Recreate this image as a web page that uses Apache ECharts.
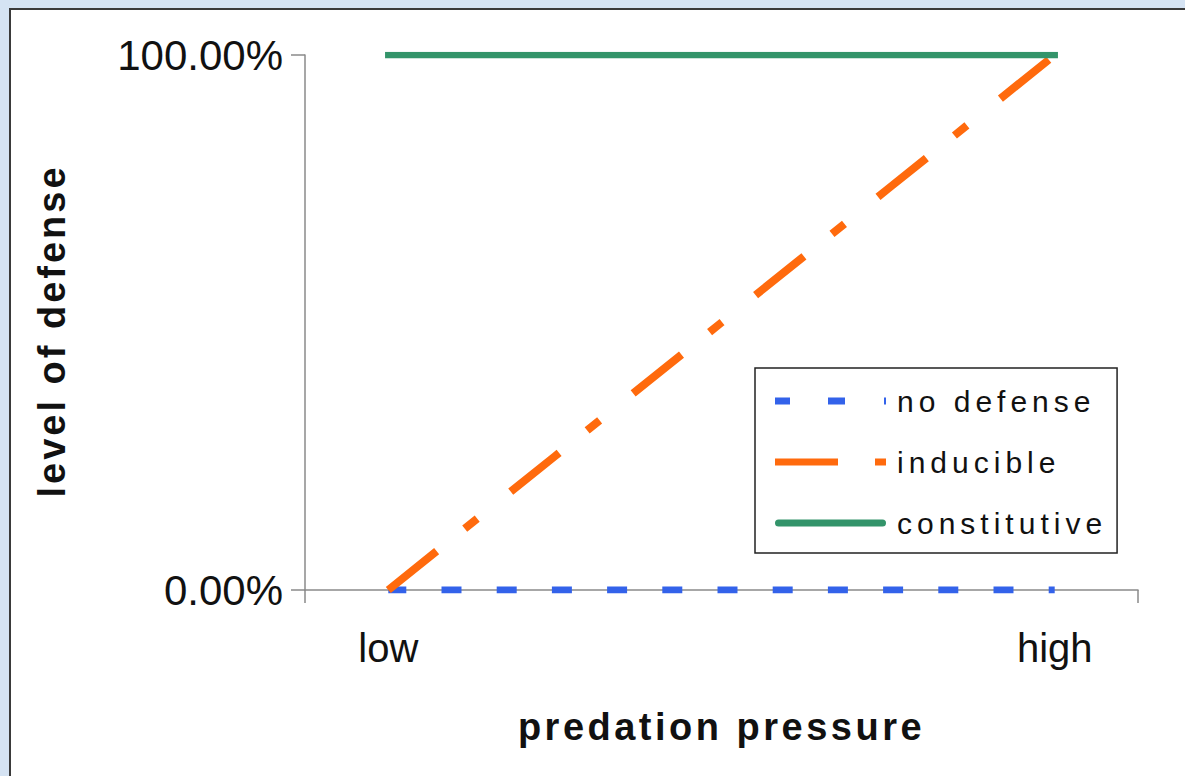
<!DOCTYPE html>
<html>
<head>
<meta charset="utf-8">
<script src="https://cdn.jsdelivr.net/npm/echarts@6/dist/echarts.min.js"></script>
<style>
  html, body { margin: 0; padding: 0; }
  body { width: 1185px; height: 776px; background: #d5e3f3; position: relative; overflow: hidden; }
  #panel { position: absolute; left: 9px; top: 8px; width: 1200px; height: 800px; background: #ffffff;
           border-left: 2px solid #3a3a3a; border-top: 2px solid #3a3a3a; }
  #chart { position: absolute; left: 0; top: 0; width: 1185px; height: 776px; }
</style>
</head>
<body>
<div id="panel"></div>
<div id="chart"></div>
<script>
// ---- data ----
const categories = ['low', '', '', '', 'high'];
const noDefense = [0, 0, 0, 0, 0];
const inducible = [0, 0.25, 0.5, 0.75, 1];
const constitutive = [1, 1, 1, 1, 1];
const seriesNames = ['no defense', 'inducible', 'constitutive'];
const yTicks = [0, 1];

const FONT = '"Liberation Sans", Arial, sans-serif';
const colors = { blue: '#3362ea', orange: '#ff6a0d', green: '#33946a' };

const option = {
  animation: false,
  backgroundColor: 'transparent',
  grid: { left: 305, right: 47, top: 55, bottom: 186, containLabel: false },
  xAxis: {
    type: 'category',
    data: categories,
    boundaryGap: true,
    axisLine: { show: true, lineStyle: { color: '#8a8a8a', width: 1.5 } },
    axisTick: { show: true, length: 13, interval: function (i) { return i === 0; },
                lineStyle: { color: '#8a8a8a', width: 1.5 } },
    axisLabel: { interval: 0, margin: 38, fontFamily: FONT, fontSize: 40, color: '#111' },
    splitLine: { show: false },
    name: 'predation pressure',
    nameLocation: 'middle',
    nameGap: 118,
    nameTextStyle: { fontFamily: FONT, fontSize: 38, fontWeight: 'bold', color: '#111' }
  },
  yAxis: {
    type: 'value',
    min: yTicks[0], max: yTicks[1], interval: 1,
    axisLine: { show: true, lineStyle: { color: '#8a8a8a', width: 1.5 } },
    axisTick: { show: true, length: 14, lineStyle: { color: '#8a8a8a', width: 1.5 } },
    axisLabel: { margin: 22, fontFamily: FONT, fontSize: 42, color: '#111',
                 formatter: function (v) { return (v * 100).toFixed(2) + '%'; } },
    splitLine: { show: false },
    name: 'level of defense',
    nameLocation: 'middle',
    nameRotate: 90,
    nameGap: 234,
    nameTextStyle: { fontFamily: FONT, fontSize: 38, fontWeight: 'bold', color: '#111', padding: [0, 17, 0, 0] }
  },
  legend: {
    orient: 'vertical',
    left: 755, top: 368,
    padding: [18, 70, 15, 20],
    itemGap: 31,
    itemWidth: 111,
    itemHeight: 7,
    borderColor: '#222',
    borderWidth: 1.5,
    backgroundColor: '#fff',
    textStyle: { fontFamily: FONT, fontSize: 30, color: '#111', padding: [0, 0, 0, 6] },
    data: [
      { name: seriesNames[0], icon: 'path://M0,0h15v7h-15z M53,0h17v7h-17z M109,0h2v7h-2z' },
      { name: seriesNames[1], icon: 'path://M0,0h63v7h-63z M100,0h11v7h-11z' },
      { name: seriesNames[2], icon: 'path://M3.5,0h104a3.5,3.5 0 0 1 0,7h-104a3.5,3.5 0 0 1 0,-7z' }
    ]
  },
  series: [
    {
      name: seriesNames[0], type: 'line', data: noDefense, symbol: 'none', z: 2,
      itemStyle: { color: colors.blue },
      lineStyle: { color: colors.blue, width: 7, type: [20, 35.2], dashOffset: 1.5, cap: 'butt' }
    },
    {
      name: seriesNames[1], type: 'line', data: inducible, symbol: 'none', z: 3,
      itemStyle: { color: colors.orange },
      lineStyle: { color: colors.orange, width: 8, type: [62, 36, 16, 43], dashOffset: 0, cap: 'butt' }
    },
    {
      name: seriesNames[2], type: 'line', data: constitutive, symbol: 'none', z: 4,
      itemStyle: { color: colors.green },
      lineStyle: { color: colors.green, width: 6.5, type: 'solid', cap: 'square' }
    }
  ]
};

const dom = document.getElementById('chart');
const chart = echarts.init(dom, null, { renderer: 'svg' });
chart.setOption(option);

// letter spacing like the original (SVG text honours CSS letter-spacing)
const spacing = {
  'predation pressure': 3.5,
  'level of defense': 3,
  'no defense': 5,
  'inducible': 5,
  'constitutive': 5
};
function applySpacing() {
  dom.querySelectorAll('text').forEach(function (t) {
    const s = (t.textContent || '').trim();
    if (spacing[s] != null) t.style.letterSpacing = spacing[s] + 'px';
  });
}
applySpacing();
chart.on('finished', applySpacing);
</script>
</body>
</html>
